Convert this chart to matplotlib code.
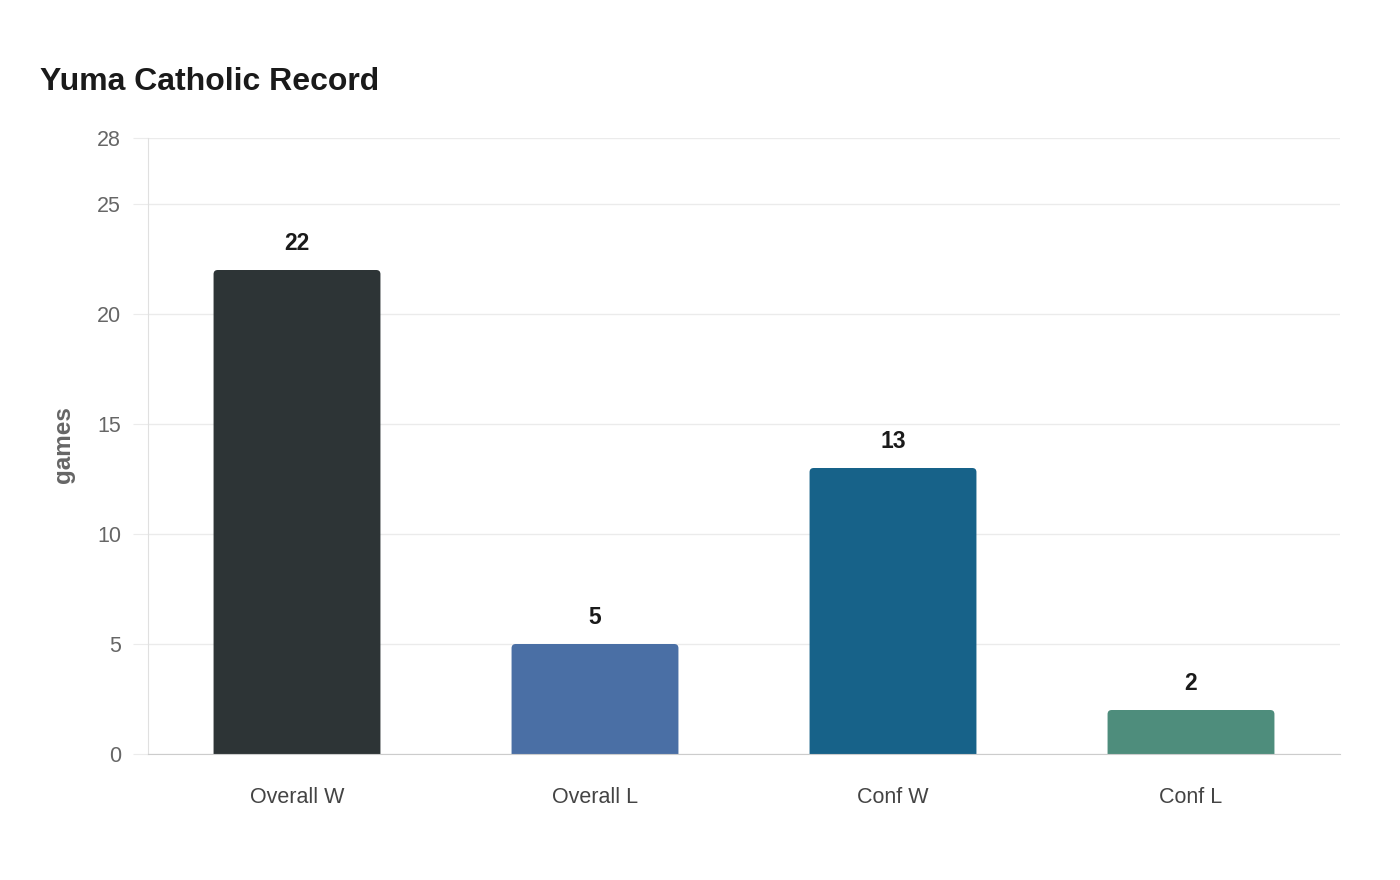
import matplotlib.pyplot as plt
from matplotlib.patches import FancyBboxPatch

# data
categories = ['Overall W', 'Overall L', 'Conf W', 'Conf L']
games = [22, 5, 13, 2]
colors = ['#2d3436', '#4a6fa5', '#176289', '#4e8d7c']
yticks = [0, 5, 10, 15, 20, 25, 28]

plt.rcParams['font.family'] = ['Liberation Sans', 'DejaVu Sans']

fig = plt.figure(figsize=(14, 8.8), dpi=100)
ax = fig.add_axes([148 / 1400, 1 - 754 / 880, 1192 / 1400, 616 / 880])

bars = ax.bar(range(len(categories)), games, width=0.56, color=colors)
# swap plain bars for ones with rounded top corners
for b, c in zip(bars, colors):
    b.set_visible(False)
    x, w, h = b.get_x(), b.get_width(), b.get_height()
    patch = FancyBboxPatch((x, -1), w, h + 1,
                           boxstyle='round,pad=0,rounding_size=0.014',
                           mutation_aspect=13.5, facecolor=c, edgecolor='none',
                           zorder=3)
    ax.add_patch(patch)
    ax.text(b.get_x() + w / 2, h + 1.2, str(h), ha='center', va='center',
            fontsize=16.5, fontweight='bold', color='#1a1a1a', zorder=4)

ax.set_xlim(-0.5, len(categories) - 0.5)
ax.set_ylim(0, 28)
ax.set_yticks(yticks)
ax.set_xticks(range(len(categories)))
ax.set_xticklabels(categories)

ax.grid(axis='y', color='#ebebeb', lw=1, zorder=0)
ax.set_axisbelow(True)
ax.tick_params(axis='y', length=10.8, color='#ebebeb', labelsize=15.5,
               labelcolor='#666666', pad=8.6)
ax.tick_params(axis='x', length=0, labelsize=15.5, labelcolor='#444444', pad=24)

for s in ['top', 'right']:
    ax.spines[s].set_visible(False)
ax.spines['left'].set_color('#e0e0e0')
ax.spines['bottom'].set_color('#cccccc')
ax.spines['bottom'].set_zorder(5)

ax.text(-0.0713, 0.5016, 'games', transform=ax.transAxes, rotation=90,
        ha='center', va='center', fontsize=17.5, fontweight='bold',
        color='#666666')

fig.text(40 / 1400, 1 - 82 / 880, 'Yuma Catholic Record', fontsize=23,
         fontweight='bold', color='#1a1a1a', ha='left', va='center')

fig.savefig('out.png', dpi=100, facecolor='white')
